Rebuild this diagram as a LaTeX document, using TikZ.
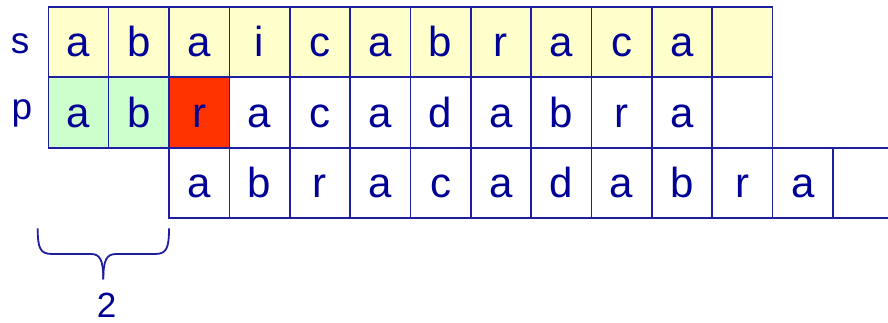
\documentclass[tikz,border=0pt]{standalone}
\usepackage{fontspec}
\setmainfont{Liberation Sans}
\definecolor{ln}{RGB}{30,30,160}
\definecolor{tx}{RGB}{0,0,150}
\definecolor{yel}{RGB}{255,255,204}
\definecolor{grn}{RGB}{204,255,204}
\definecolor{mis}{RGB}{255,51,0}
\tikzset{
  cellbox/.style={draw=ln, line width=1.6pt, minimum width=60.35pt, minimum height=70.5pt,
    inner sep=0pt, outer sep=0pt, text=tx, font=\fontsize{42}{42}\selectfont,
    text height=30pt, text depth=0pt, anchor=north west},
  opencell/.style={cellbox, draw=none},
  lbl/.style={text=tx, font=\fontsize{37}{37}\selectfont, inner sep=0pt, anchor=base},
  edge/.style={draw=ln, line width=1.6pt},
  bracepath/.style={draw=ln, line width=1.8pt}
}
\begin{document}
\begin{tikzpicture}[x=1pt,y=-1pt]
\useasboundingbox (0,0) rectangle (888,322);
% row s
\foreach \c [count=\i] in {a,b,a,i,c,a,b,r,a,c,a,{}}{
  \node[cellbox, fill=yel] (s\i) at ({48.3+(\i-1)*60.35},6.7) {\c};
}
% row p
\foreach \c [count=\i] in {a,b,r,a,c,a,d,a,b,r,a,{}}{
  \ifnum\i<3
    \node[cellbox, fill=grn] (p\i) at ({48.3+(\i-1)*60.35},77.3) {\c};
  \else\ifnum\i=3
    \node[cellbox, fill=mis] (p\i) at ({48.3+(\i-1)*60.35},77.3) {\c};
  \else
    \node[cellbox] (p\i) at ({48.3+(\i-1)*60.35},77.3) {\c};
  \fi\fi
}
% row 3 (pattern shifted)
\foreach \c [count=\i] in {a,b,r,a,c,a,d,a,b,r,a}{
  \node[cellbox] (q\i) at ({169+(\i-1)*60.35},147.7) {\c};
}
\node[opencell] (q12) at ({169+11*60.35},147.7) {};
\draw[edge] (q12.north west) -- (q12.north east);
\draw[edge] (q12.south west) -- (q12.south east);
% labels
\node[lbl] (ls) at (20,53) {s};
\node[lbl] (lp) at (22,119) {p};
% brace
\coordinate (bl) at (37.7,228.3);
\coordinate (br) at (169,228.3);
\coordinate (bt) at (103.3,279.3);
\draw[bracepath] (bl) .. controls (37.7,248) and (40,254) .. (52,254) -- (91,254)
  .. controls (100,254) and (103.3,260) .. (bt);
\draw[bracepath] (br) .. controls (169,248) and (166.7,254) .. (155,254) -- (116,254)
  .. controls (106.6,254) and (103.3,260) .. (bt);
\node[lbl, font=\fontsize{35}{35}\selectfont, text depth=0pt] (two) at (106.5,317.8) {2};
\end{tikzpicture}
\end{document}
